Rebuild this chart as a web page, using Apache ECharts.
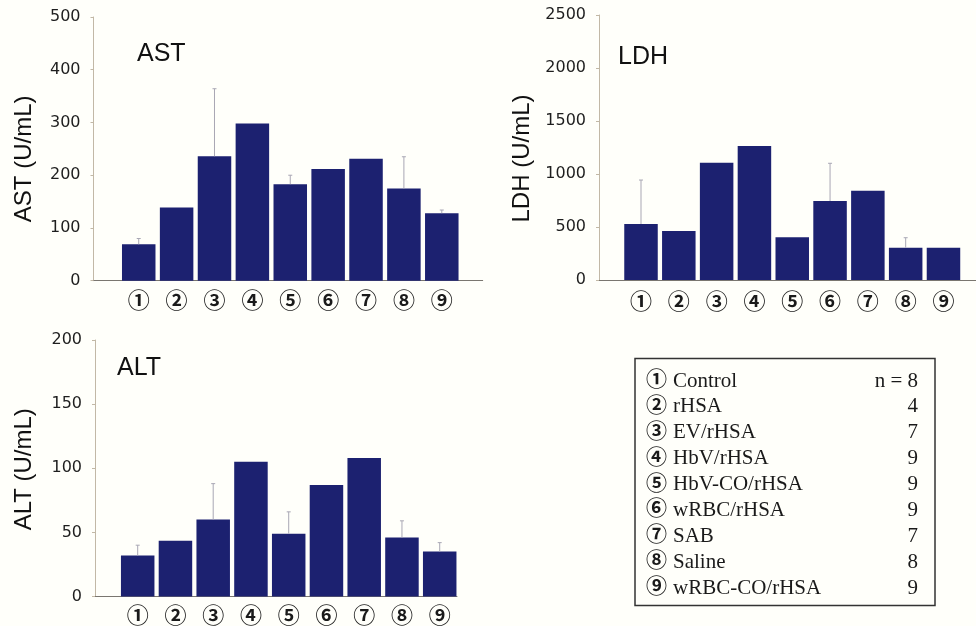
<!DOCTYPE html>
<html>
<head>
<meta charset="utf-8">
<script src="https://cdn.jsdelivr.net/npm/echarts@6/dist/echarts.min.js"></script>
<style>
  html, body { margin: 0; padding: 0; background: #fffffa; }
  #chart { width: 976px; height: 626px; }
</style>
</head>
<body>
<div id="chart"></div>
<script>
// Treatment groups (circled numbers used as x-axis labels)
const groupNo = ['①', '②', '③', '④', '⑤', '⑥', '⑦', '⑧', '⑨'];
const groupNames = ['Control', 'rHSA', 'EV/rHSA', 'HbV/rHSA', 'HbV-CO/rHSA', 'wRBC/rHSA', 'SAB', 'Saline', 'wRBC-CO/rHSA'];
const groupN = [8, 4, 7, 9, 9, 9, 7, 8, 9];

// Serum enzyme levels (mean) and upper error (SD), U/mL
const astMean = [69, 139, 236, 298, 183, 212, 231, 175, 128];
const astSd   = [11, 0, 128, 0, 17, 0, 0, 60, 6];
const ldhMean = [528, 462, 1107, 1264, 403, 745, 842, 305, 305];
const ldhSd   = [415, 0, 0, 0, 0, 356, 0, 94, 0];
const altMean = [32, 43.5, 60, 105, 49, 87, 108, 46, 35];
const altSd   = [8, 0, 28, 0, 17, 0, 0, 13, 7];

const BAR = '#1c2170';
const LABEL_FONT = "'DejaVu Sans', sans-serif";
const CIRCLE_FONT = "'Noto Sans CJK JP', 'DejaVu Sans', sans-serif";

const positions = [1, 2, 3, 4, 5, 6, 7, 8, 9];

const panels = [
  { name: 'AST', mean: astMean, sd: astSd, max: 500, interval: 100,
    grid: { left: 93.5, top: 17, width: 389.2, height: 263.7 },
    xMin: -0.194, xMax: 10.08, labelMargin: 8, nameGap: 57, nameShift: 10 },
  { name: 'LDH', mean: ldhMean, sd: ldhSd, max: 2500, interval: 500,
    grid: { left: 599, top: 15, width: 377, height: 265 },
    xMin: -0.111, xMax: 9.86, labelMargin: 10, nameGap: 65, nameShift: 11 },
  { name: 'ALT', mean: altMean, sd: altSd, max: 200, interval: 50,
    grid: { left: 95, top: 340, width: 362, height: 256.5 },
    xMin: -0.131, xMax: 9.458, labelMargin: 7, nameGap: 59, nameShift: 1 }
];

const grid = [], xAxis = [], yAxis = [], series = [];

panels.forEach((p, k) => {
  grid.push(Object.assign({}, p.grid));
  xAxis.push({
    type: 'value', gridIndex: k, min: p.xMin, max: p.xMax,
    axisLine: { show: true, onZero: false, lineStyle: { color: '#7a7670', width: 1 } },
    axisTick: { show: false },
    splitLine: { show: false },
    axisLabel: {
      customValues: positions,
      formatter: v => groupNo[Math.round(v) - 1] || '',
      margin: p.labelMargin,
      fontFamily: CIRCLE_FONT, fontSize: 22, fontWeight: 'bold', color: '#1a1a1a'
    }
  });
  yAxis.push({
    type: 'value', gridIndex: k, min: 0, max: p.max, interval: p.interval,
    name: p.name + ' (U/mL)', nameLocation: 'middle', nameRotate: 90, nameGap: p.nameGap,
    nameTextStyle: {
      fontFamily: "'Liberation Sans', Arial, sans-serif", fontSize: 24, color: '#111',
      padding: [0, 2 * p.nameShift, 0, 0]
    },
    axisLine: { show: true, onZero: false, lineStyle: { color: '#c2b8a6', width: 1 } },
    axisTick: { show: true, length: 3, lineStyle: { color: '#c2b8a6' } },
    splitLine: { show: false },
    axisLabel: {
      formatter: v => String(v),
      fontFamily: LABEL_FONT, fontSize: 16, color: '#1e1e1e', margin: 13,
      padding: [5, 0, 0, 0]
    }
  });
  series.push({
    type: 'bar', xAxisIndex: k, yAxisIndex: k, barWidth: 33.5,
    itemStyle: { color: BAR },
    data: p.mean.map((v, i) => [positions[i], v]),
    silent: true, z: 2
  });
  series.push({
    type: 'custom', xAxisIndex: k, yAxisIndex: k, silent: true, z: 3,
    data: p.mean.map((v, i) => [positions[i], v, p.sd[i]]),
    renderItem: (params, api) => {
      const x = api.value(0), m = api.value(1), s = api.value(2);
      if (!s) return null;
      const a = api.coord([x, m]);
      const b = api.coord([x, m + s]);
      return {
        type: 'group',
        children: [
          { type: 'line', shape: { x1: a[0], y1: a[1], x2: b[0], y2: b[1] },
            style: { stroke: '#a9a7b4', lineWidth: 1 } },
          { type: 'line', shape: { x1: b[0] - 2, y1: b[1], x2: b[0] + 2, y2: b[1] },
            style: { stroke: '#a9a7b4', lineWidth: 1 } }
        ]
      };
    }
  });
});

// Panel captions and the group key box
const captions = [
  { text: 'AST', x: 137, y: 54 },
  { text: 'LDH', x: 618, y: 57 },
  { text: 'ALT', x: 117, y: 368 }
];
const graphic = captions.map(c => ({
  type: 'text', x: c.x, y: c.y,
  style: { text: c.text, fontFamily: "'Liberation Sans', Arial, sans-serif", fontSize: 25,
           fill: '#111', textVerticalAlign: 'middle' }
}));

graphic.push({
  type: 'rect', shape: { x: 635, y: 358.5, width: 300, height: 247 },
  style: { fill: 'none', stroke: '#333', lineWidth: 1.5 }
});
const KEY_FONT = "'Liberation Serif', 'Times New Roman', serif";
groupNames.forEach((g, i) => {
  const y = 381 + i * 25.9;
  graphic.push({
    type: 'text', x: 646, y: y - 3,
    style: { text: groupNo[i], fontFamily: CIRCLE_FONT, fontSize: 21, fontWeight: 'bold',
             fill: '#1a1a1a', textVerticalAlign: 'middle' }
  });
  graphic.push({
    type: 'text', x: 673, y: y,
    style: { text: g, fontFamily: KEY_FONT, fontSize: 21,
             fill: '#1a1a1a', textVerticalAlign: 'middle' }
  });
  graphic.push({
    type: 'text', x: 918, y: y,
    style: { text: (i === 0 ? 'n = ' : '') + groupN[i], fontFamily: KEY_FONT, fontSize: 21,
             fill: '#1a1a1a', textAlign: 'right', textVerticalAlign: 'middle' }
  });
});

const chart = echarts.init(document.getElementById('chart'), null, { renderer: 'canvas' });
chart.setOption({
  backgroundColor: '#fffffa',
  animation: false,
  grid, xAxis, yAxis, series, graphic
});
</script>
</body>
</html>
